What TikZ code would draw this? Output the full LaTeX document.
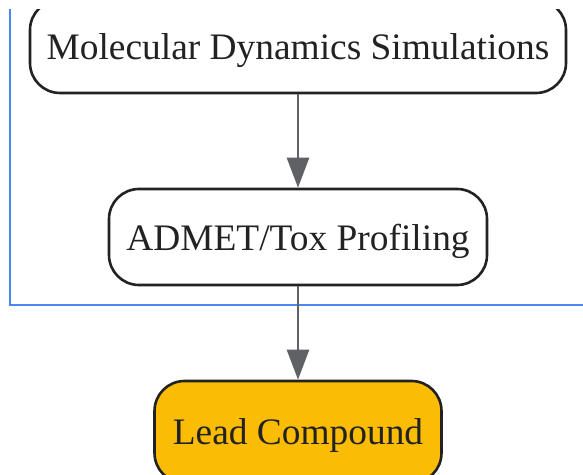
\documentclass[tikz,border=0pt]{standalone}
\usepackage{fontspec}
\setmainfont{Liberation Serif}
\usetikzlibrary{arrows.meta}
\definecolor{inkdark}{HTML}{222222}
\definecolor{arrowgray}{HTML}{5F6166}
\definecolor{groupblue}{HTML}{4A88F0}
\definecolor{leadgold}{HTML}{FBBC05}
\tikzset{
  stepbox/.style={draw=inkdark,line width=2.6pt,rounded corners=30pt,fill=white,
    text=inkdark,inner sep=0pt,text depth=0pt,font=\fontsize{37.4}{40}\selectfont},
  flow/.style={draw=arrowgray,line width=2.6pt,-{Triangle[length=30pt,width=22pt]}}
}
\begin{document}
\begin{tikzpicture}[x=1pt,y=1pt]
				\useasboundingbox(0,0)rectangle(583,474);
				\clip(0,0)rectangle(583,464);
				\draw[groupblue,line width=2.6pt](10,480)--(10,169)--(590,169);
				\node[stepbox,minimum width=536pt,minimum height=93pt](md)at(298,427.5){Molecular Dynamics Simulations};
				\node[stepbox,minimum width=378pt,minimum height=96pt](admet)at(298,237){ADMET/Tox Profiling};
				\node[stepbox,fill=leadgold,minimum width=287pt,minimum height=102pt](lead)at(298,42){Lead Compound};
				\draw[flow](md)--(admet);
				\draw[flow](admet)--(lead);
			\end{tikzpicture}
\end{document}
